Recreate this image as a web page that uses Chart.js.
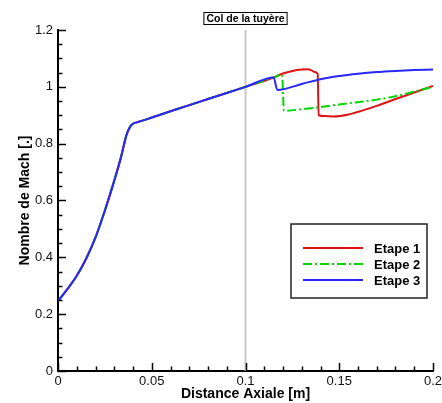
<!DOCTYPE html>
<html>
<head>
<meta charset="utf-8">
<script src="https://cdn.jsdelivr.net/npm/chart.js@4"></script>
<style>
  html, body { margin: 0; padding: 0; background: #fff; }
  #wrap { width: 442px; height: 403px; }
</style>
</head>
<body>
<div id="wrap"><canvas id="machChart" width="442" height="403"></canvas></div>
<script>
// partie commune (convergent + debut divergent)
const communX = [0, 0.005, 0.01, 0.015, 0.02, 0.025, 0.03, 0.0335, 0.0365, 0.0385, 0.0402, 0.042, 0.045, 0.05, 0.06, 0.08, 0.1, 0.115];
const communY = [0.246, 0.288, 0.335, 0.395, 0.47, 0.565, 0.67, 0.75, 0.83, 0.86, 0.871, 0.875, 0.881, 0.892, 0.914, 0.957, 1.0, 1.033];

const etape1X = [0.12, 0.125, 0.13, 0.133, 0.135, 0.137, 0.1385, 0.139, 0.142, 0.147, 0.155, 0.163, 0.17, 0.18, 0.19, 0.2];
const etape1Y = [1.047, 1.056, 1.061, 1.062, 1.059, 1.052, 1.045, 0.9, 0.897, 0.896, 0.903, 0.918, 0.933, 0.957, 0.98, 1.003];

const etape2X = [0.1195, 0.1205, 0.13, 0.14, 0.15, 0.16, 0.17, 0.18, 0.19, 0.2];
const etape2Y = [1.043, 0.916, 0.921, 0.929, 0.938, 0.946, 0.955, 0.967, 0.983, 1.0];

const etape3X = [0.117, 0.13, 0.14, 0.15, 0.16, 0.17, 0.18, 0.19, 0.2];
const etape3Y = [0.989, 1.01, 1.027, 1.038, 1.046, 1.052, 1.056, 1.059, 1.061];

const labels = ["Etape 1", "Etape 2", "Etape 3"];
const colCol = 0.1; // position du col
const xTicks = [0, 0.05, 0.1, 0.15, 0.2];
const yTicks = [0, 0.2, 0.4, 0.6, 0.8, 1, 1.2];

const pts = (xs, ys) => xs.map((x, i) => ({ x: x, y: ys[i] }));
const serie = (xs, ys) => pts(communX, communY).concat(pts(xs, ys));

const couleurs = ["rgb(222,20,20)", "rgb(0,215,0)", "rgb(40,40,250)"];
const tirets = [[], [9, 3, 2, 3], []];

// ticks interieurs + trait du col + legende encadree
const decor = {
  id: "decor",
  beforeDatasetsDraw(chart) {
    const { ctx, chartArea, scales } = chart;
    const px = scales.x.getPixelForValue(colCol);
    ctx.save();
    ctx.strokeStyle = "#c8c8c8";
    ctx.lineWidth = 2;
    ctx.beginPath();
    ctx.moveTo(px, chartArea.top);
    ctx.lineTo(px, chartArea.bottom);
    ctx.stroke();
    ctx.restore();
  },
  afterDraw(chart) {
    const { ctx, chartArea, scales } = chart;
    const xs = scales.x, ys = scales.y;
    ctx.save();
    ctx.strokeStyle = "#000";
    ctx.lineWidth = 1.5;
    ctx.beginPath();
    for (let i = 0; i <= 20; i++) {
      const v = i * 0.01;
      const p = Math.round(xs.getPixelForValue(v)) + 0.5;
      const len = i % 5 === 0 ? 8 : 4.5;
      ctx.moveTo(p, chartArea.bottom);
      ctx.lineTo(p, chartArea.bottom - len);
    }
    for (let i = 0; i <= 24; i++) {
      const v = i * 0.05;
      const p = Math.round(ys.getPixelForValue(v)) + 0.5;
      const len = i % 4 === 0 ? 8 : 4.5;
      ctx.moveTo(chartArea.left, p);
      ctx.lineTo(chartArea.left + len, p);
    }
    ctx.stroke();

    // etiquette du col
    const px = xs.getPixelForValue(colCol);
    ctx.font = "bold 10.5px 'Liberation Sans', Arial, sans-serif";
    ctx.textAlign = "center";
    ctx.textBaseline = "middle";
    const txt = "Col de la tuyère";
    const w = ctx.measureText(txt).width;
    ctx.fillStyle = "#fff";
    ctx.fillRect(px - w / 2 - 3, 12.5, w + 6, 12);
    ctx.lineWidth = 1;
    ctx.strokeRect(px - w / 2 - 3 + 0.5, 12.5, w + 5, 12);
    ctx.fillStyle = "#000";
    ctx.fillText(txt, px, 19);

    // legende
    ctx.lineWidth = 1.5;
    ctx.strokeStyle = "#222";
    ctx.fillStyle = "#fff";
    ctx.fillRect(291, 224, 136, 74);
    ctx.strokeRect(291, 224, 136, 74);
    const rows = [248, 264, 280];
    ctx.font = "bold 13px 'Liberation Sans', Arial, sans-serif";
    ctx.textAlign = "left";
    labels.forEach((lab, i) => {
      ctx.strokeStyle = couleurs[i];
      ctx.lineWidth = 2;
      ctx.setLineDash(tirets[i]);
      ctx.beginPath();
      ctx.moveTo(303, rows[i]);
      ctx.lineTo(363, rows[i]);
      ctx.stroke();
      ctx.setLineDash([]);
      ctx.fillStyle = "#000";
      ctx.fillText(lab, 374, rows[i] + 1);
    });
    ctx.restore();
  }
};

const tickFont = { family: "'Liberation Sans', Arial, sans-serif", size: 13 };
const titleFont = { family: "'Liberation Sans', Arial, sans-serif", size: 14, weight: "bold" };

new Chart(document.getElementById("machChart"), {
  type: "line",
  data: {
    datasets: [
      { label: labels[0], data: serie(etape1X, etape1Y), order: 3 },
      { label: labels[1], data: serie(etape2X, etape2Y), order: 2 },
      { label: labels[2], data: serie(etape3X, etape3Y), order: 1 }
    ].map((d, i) => Object.assign(d, {
      borderColor: couleurs[i],
      borderWidth: 2,
      borderDash: tirets[i],
      pointRadius: 0,
      fill: false,
      cubicInterpolationMode: "monotone"
    }))
  },
  options: {
    responsive: false,
    animation: false,
    layout: { padding: { top: 30, right: 9, left: 0, bottom: 0 } },
    plugins: { legend: { display: false }, tooltip: { enabled: false } },
    scales: {
      x: {
        type: "linear",
        min: 0,
        max: 0.2,
        afterBuildTicks: (s) => { s.ticks = xTicks.map(v => ({ value: v })); },
        afterFit: (s) => { s.height = 32; s.paddingLeft = 0; s.paddingRight = 0; },
        grid: { display: false, drawTicks: false },
        border: { display: true, color: "#000", width: 2 },
        ticks: { color: "#111", font: tickFont, padding: 3, maxRotation: 0, autoSkip: false,
          callback: (v) => String(Number(v.toFixed(2))) },
        title: { display: true, text: "Distance Axiale [m]", color: "#000", font: titleFont, padding: { top: -2, bottom: 0 } }
      },
      y: {
        min: 0,
        max: 1.2,
        afterBuildTicks: (s) => { s.ticks = yTicks.map(v => ({ value: v })); },
        afterFit: (s) => { s.width = 58; s.paddingTop = 0; s.paddingBottom = 0; },
        grid: { display: false, drawTicks: false },
        border: { display: true, color: "#000", width: 2 },
        ticks: { color: "#111", font: tickFont, padding: 5, autoSkip: false,
          callback: (v) => String(Number(v.toFixed(1))) },
        title: { display: true, text: "Nombre de Mach [.]", color: "#000", font: titleFont, padding: { top: 17, bottom: 4 } }
      }
    }
  },
  plugins: [decor]
});
</script>
</body>
</html>
